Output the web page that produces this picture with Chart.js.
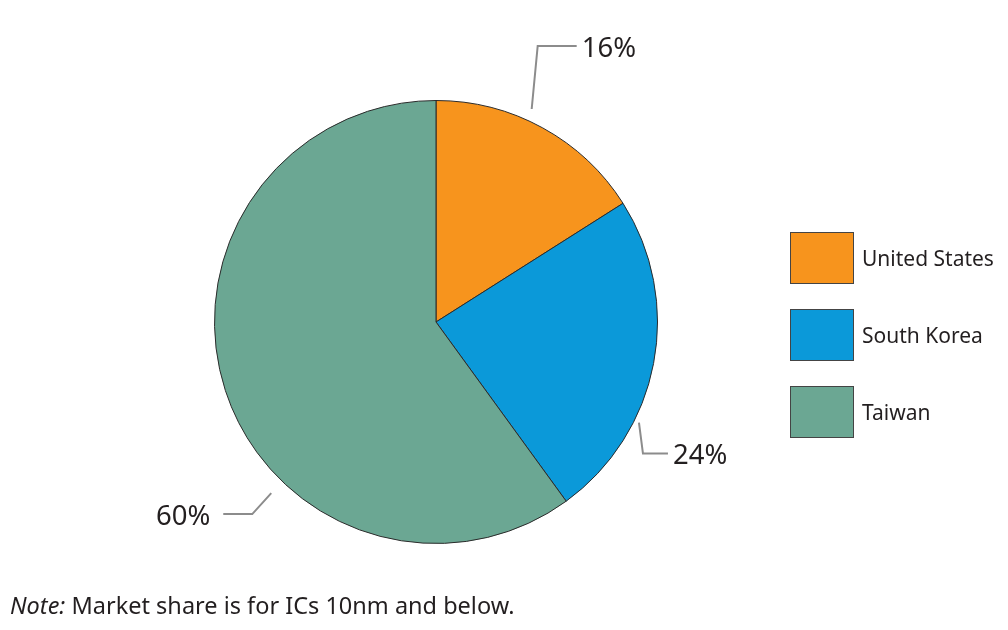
<!DOCTYPE html>
<html lang="en">
  <head>
    <meta charset="UTF-8" />
    <title>Market share pie</title>
    <style>
      body {
        margin: 0;
        background: #fff;
        font-family: "Noto Sans", sans-serif;
      }
      .wrap {
        position: relative;
        width: 1008px;
        height: 630px;
      }
      .note {
        position: absolute;
        left: 10px;
        top: 589px;
        font-size: 23.5px;
        color: #231f20;
        white-space: nowrap;
      }
    </style>
    <script src="https://cdn.jsdelivr.net/npm/chart.js"></script>
  </head>
  <body>
    <div class="wrap">
      <canvas id="pieChart" width="1008" height="630"></canvas>
      <div class="note"><i>Note:</i> Market share is for ICs 10nm and below.</div>
    </div>

    <script>
      const countries = ["United States", "South Korea", "Taiwan"];
      const shares = [16, 24, 60];
      const colors = ["#f7941d", "#0b99d9", "#6ba793"];

      // where each leader line leaves its slice (fraction across the slice) and its elbow shape
      const leaders = [
        { frac: 0.42, r: 12, elbow: [6, -63], run: 39, side: "right" },
        { frac: 0.68, r: 5, elbow: [4, 31], run: 25, side: "right" },
        { frac: 0.37, r: 16, elbow: [-19, 21], run: -29, side: "left" },
      ];

      const labelPlugin = {
        id: "labelPlugin",
        afterDraw(chart) {
          const ctx = chart.ctx;
          const meta = chart.getDatasetMeta(0);
          ctx.save();
          meta.data.forEach((arc, i) => {
            const p = arc.getProps(["x", "y", "startAngle", "endAngle", "outerRadius"], true);
            const L = leaders[i];
            const a = p.startAngle + (p.endAngle - p.startAngle) * L.frac;
            const sx = p.x + Math.cos(a) * (p.outerRadius + L.r);
            const sy = p.y + Math.sin(a) * (p.outerRadius + L.r);
            const ex = sx + L.elbow[0];
            const ey = sy + L.elbow[1];
            const tx = ex + L.run;
            ctx.strokeStyle = "#8c8c8c";
            ctx.lineWidth = 2;
            ctx.beginPath();
            ctx.moveTo(sx, sy);
            ctx.lineTo(ex, ey);
            ctx.lineTo(tx, ey);
            ctx.stroke();
            ctx.fillStyle = "#231f20";
            ctx.font = '27.5px "Noto Sans"';
            ctx.textBaseline = "middle";
            ctx.textAlign = L.side === "right" ? "left" : "right";
            const gap = L.side === "right" ? 5 : -13;
            ctx.fillText(shares[i] + "%", tx + gap, ey + 3);
          });

          // legend
          countries.forEach((name, i) => {
            const bx = 790, by = 232 + i * 77;
            ctx.fillStyle = colors[i];
            ctx.fillRect(bx, by, 63, 51);
            ctx.strokeStyle = "#444";
            ctx.lineWidth = 1;
            ctx.strokeRect(bx + 0.5, by + 0.5, 63, 51);
            ctx.fillStyle = "#231f20";
            ctx.font = '21px "Noto Sans"';
            ctx.textAlign = "left";
            ctx.textBaseline = "middle";
            ctx.fillText(name, 862, by + 28);
          });
          ctx.restore();
        },
      };

      new Chart(document.getElementById("pieChart").getContext("2d"), {
        type: "pie",
        data: {
          labels: countries,
          datasets: [
            {
              data: shares,
              backgroundColor: colors,
              borderColor: "#2b2b2b",
              borderWidth: 1,
            },
          ],
        },
        options: {
          responsive: false,
          animation: false,
          layout: {
            padding: { left: 214, right: 350, top: 100, bottom: 86 },
          },
          plugins: {
            legend: { display: false },
            tooltip: { enabled: false },
          },
        },
        plugins: [labelPlugin],
      });
    </script>
  </body>
</html>
